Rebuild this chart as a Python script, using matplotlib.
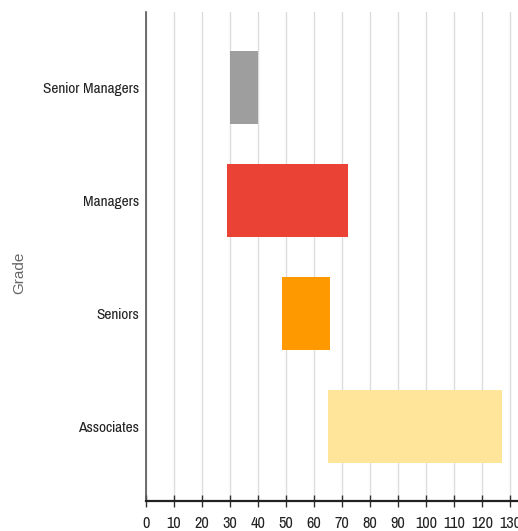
import matplotlib
matplotlib.use("Agg")
import matplotlib.pyplot as plt
from matplotlib import font_manager
from matplotlib.font_manager import FontProperties

categories = ["Senior Managers", "Managers", "Seniors", "Associates"]
starts = [30, 29, 48.5, 65]
ends = [40, 72, 65.7, 127]
colors = ["#9e9e9e", "#ea4335", "#ff9900", "#ffe59a"]
xticks = list(range(0, 140, 10))

# pick a narrow sans font (Arial Narrow look-alike) if one is installed
fl = font_manager.fontManager.ttflist
prefer = ["Liberation Sans Narrow", "Pragati Narrow", "PT Sans Narrow", "Arimo Narrow",
          "Roboto Condensed", "Archivo Narrow"]
chosen = None
for name in prefer:
    c = [f for f in fl if f.name == name and f.style == "normal" and f.weight in (400, "normal", "regular")]
    if c:
        chosen = c[0]
        break
if chosen is None:
    c = [f for f in fl if "Narrow" in f.name and f.style == "normal" and f.weight in (400, "normal")]
    chosen = c[0] if c else None

def fp(size):
    if chosen is not None:
        return FontProperties(fname=chosen.fname, size=size)
    return FontProperties(family="Liberation Sans", size=size)

fig = plt.figure(figsize=(5.18, 5.31), dpi=100)
ax = fig.add_axes([146/518, 1-501/531, (518-146)/518, (501-12)/531])

# calibrate font size so "Senior Managers" is about as wide as in the reference
renderer = fig.canvas.get_renderer()
t = fig.text(0, 0, "Senior Managers", fontproperties=fp(11))
w = t.get_window_extent(renderer).width
t.remove()
size = 11 * 97.0 / w
size = max(8, min(size, 13))

ypos = list(range(len(categories)))
widths = [e - s for s, e in zip(starts, ends)]
ax.barh(ypos, widths, left=starts, height=0.65, color=colors, zorder=3)

ax.set_ylim(3.66, -0.67)
ax.set_xlim(0, (518-146)/2.8)
ax.set_xticks(xticks)
ax.set_xticklabels([str(x) for x in xticks], fontproperties=fp(size * 1.05), color="#222222")
ax.set_yticks(ypos)
ax.set_yticklabels(categories, fontproperties=fp(size), color="#222222")
ax.tick_params(axis="y", length=0, pad=5)
ax.tick_params(axis="x", direction="inout", length=9, width=1, color="#333333", pad=6)
ax.grid(axis="x", color="#dddddd", linewidth=1, zorder=0)
for s in ["top", "right"]:
    ax.spines[s].set_visible(False)
ax.spines["left"].set_color("#555555")
ax.spines["left"].set_linewidth(1.2)
ax.spines["bottom"].set_color("#222222")
ax.spines["bottom"].set_linewidth(1.6)
ax.set_ylabel("Grade", family="Liberation Sans", fontsize=11, color="#666666")
ax.yaxis.label.set_fontstretch("expanded")
ax.yaxis.set_label_coords((26-146)/372, (501-273)/489)

fig.savefig("out.png", dpi=100)
